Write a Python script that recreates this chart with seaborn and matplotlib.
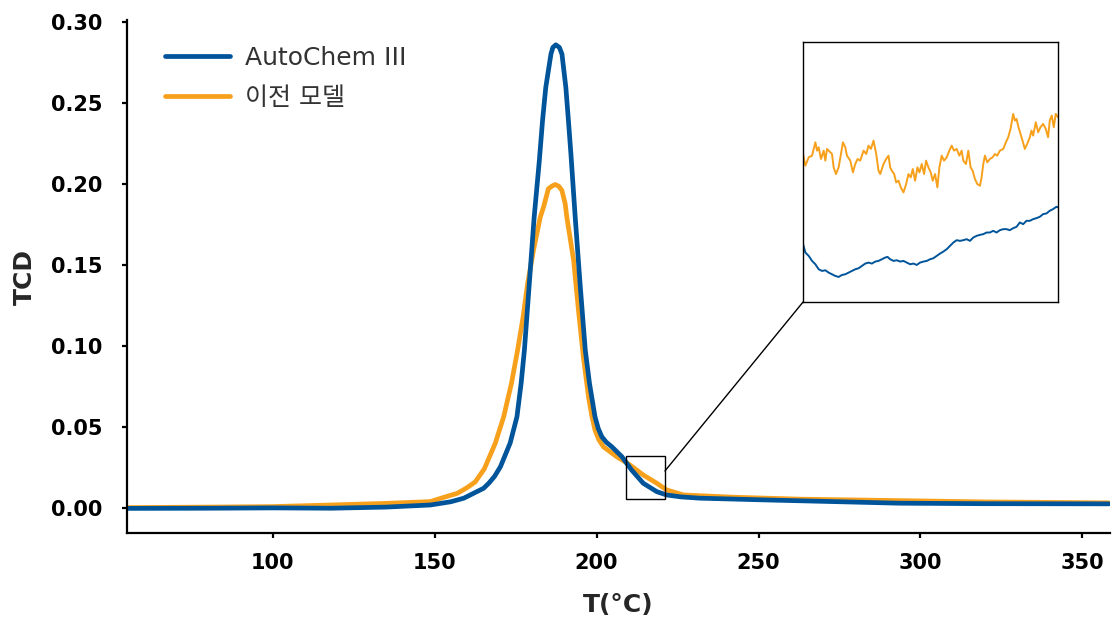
import numpy as np
import pandas as pd
import matplotlib
matplotlib.use("Agg")
import matplotlib.pyplot as plt
import seaborn as sns
from matplotlib.patches import Rectangle, ConnectionPatch

# main traces (T in °C, TCD signal)
t_auto = [55.3, 80, 100, 118, 135, 148.7, 155, 159, 162, 165.1, 166.7, 168.5, 170.3, 173.3,
          175.4, 176.7, 177.7, 179.2, 180.7, 182.3, 183.3, 184.3, 185.1, 185.9, 186.5, 187.4,
          188.5, 189.3, 189.9, 190.5, 191.3, 192.1, 193.4, 194.9, 196.5, 197.8, 199.5, 200.5,
          201.6, 203.0, 204.7, 207.8, 210.8, 214.4, 218.6, 221.6, 226, 231.9, 252.4, 273.0,
          293.5, 320, 358.2]
tcd_auto = [-0.0003, -0.0002, 0.0, -0.0002, 0.0005, 0.0018, 0.0038, 0.006, 0.009, 0.0121,
            0.0152, 0.0195, 0.0254, 0.040, 0.0562, 0.077, 0.0973, 0.138, 0.179, 0.214, 0.2389,
            0.2594, 0.2697, 0.280, 0.2841, 0.2857, 0.2841, 0.280, 0.2697, 0.2594, 0.2389,
            0.2174, 0.179, 0.138, 0.0973, 0.0768, 0.0562, 0.049, 0.0439, 0.0405, 0.0377,
            0.0316, 0.0234, 0.0152, 0.0100, 0.0080, 0.0068, 0.0060, 0.0049, 0.0039, 0.0029,
            0.0026, 0.0025]

t_prev = [55.3, 80, 100, 118, 135, 148.7, 152.8, 157, 160, 162.5, 165.3, 168.7, 171.3,
          173.7, 175.6, 177.3, 178.7, 180.5, 182.6, 183.6, 184.7, 185.1, 186.2, 187.2, 188.3,
          189.3, 190.3, 190.8, 192.9, 194.4, 195.9, 197.5, 198.5, 199.5, 200.7, 202.1, 206.2,
          210.3, 214.4, 218.6, 221.6, 226.8, 242.2, 262.7, 293.5, 320, 358.2]
tcd_prev = [0.0002, 0.0005, 0.0008, 0.0018, 0.0028, 0.0039, 0.0065, 0.009, 0.0125, 0.016,
            0.024, 0.0398, 0.0562, 0.0768, 0.0973, 0.1178, 0.1384, 0.1589, 0.1794, 0.1855,
            0.1938, 0.1969, 0.1985, 0.1995, 0.1985, 0.1958, 0.1876, 0.1794, 0.1527, 0.1219,
            0.0932, 0.0685, 0.057, 0.048, 0.042, 0.0377, 0.0316, 0.0265, 0.0203, 0.0152,
            0.0111, 0.0080, 0.0066, 0.0054, 0.0045, 0.0037, 0.0031]

# inset traces, readings in inset pixel units (x: position, y: depth from top)
ins_x_prev = [8, 15, 25, 35, 45, 50, 55, 62, 70, 75, 80, 90, 95, 100, 107, 115, 122, 128,
              135, 140, 150, 158, 165, 172, 180, 190, 198, 205, 212, 220, 228, 235, 240,
              250, 258, 265, 270, 275, 282, 288, 295, 302, 310, 318, 325, 332, 338, 345,
              352, 358, 365, 372, 378, 385, 392, 398, 405, 412, 418, 425, 432, 440, 448,
              455, 462, 470, 478, 485, 490, 498, 505, 512, 518, 525, 532, 540, 545, 550,
              555, 562, 570, 578, 585, 592, 600, 610, 618, 625, 632, 640, 645, 650, 656,
              662, 668, 675, 682, 690, 695, 700, 708, 715, 722, 730, 738, 745, 750, 756,
              762, 768, 775]
ins_y_prev = [340, 375, 350, 345, 305, 330, 320, 355, 330, 360, 325, 335, 340, 380, 400,
              380, 340, 305, 320, 345, 360, 395, 370, 355, 360, 330, 340, 315, 325, 300,
              340, 390, 400, 370, 355, 345, 380, 390, 400, 425, 420, 440, 455, 430, 400,
              410, 385, 420, 380, 395, 370, 400, 360, 380, 395, 420, 400, 440, 380, 345,
              360, 350, 330, 315, 330, 325, 345, 330, 360, 370, 330, 380, 390, 415, 430,
              435, 410, 370, 345, 365, 355, 350, 340, 345, 330, 325, 305, 290, 265, 220,
              240, 235, 260, 280, 300, 325, 310, 290, 270, 285, 245, 275, 260, 250, 265,
              290, 240, 225, 260, 220, 230]

ins_x_auto = [8, 15, 25, 35, 45, 55, 65, 75, 85, 95, 105, 115, 125, 135, 145, 155, 165,
              175, 185, 195, 205, 215, 225, 235, 245, 255, 262, 270, 280, 290, 300, 310,
              320, 330, 340, 350, 360, 370, 380, 390, 400, 410, 420, 430, 440, 450, 460,
              470, 480, 490, 500, 510, 520, 530, 540, 550, 560, 570, 580, 590, 600, 610,
              620, 630, 640, 650, 660, 670, 680, 690, 700, 710, 720, 730, 740, 750, 760,
              770, 775]
ins_y_auto = [610, 635, 645, 660, 670, 685, 690, 688, 695, 700, 705, 708, 702, 700, 695,
              690, 685, 682, 675, 668, 665, 668, 662, 660, 655, 650, 648, 655, 660, 658,
              662, 660, 665, 670, 668, 672, 665, 662, 660, 655, 652, 645, 638, 632, 625,
              615, 605, 598, 600, 598, 595, 600, 590, 585, 582, 580, 575, 575, 570, 575,
              568, 565, 565, 568, 562, 558, 545, 550, 540, 540, 535, 532, 528, 520, 518,
              510, 505, 498, 500]

blue = "#00549a"
orange = "#f7a01c"

sns.set_style("ticks")
plt.rcParams['font.family'] = ['DejaVu Sans', 'Noto Sans CJK KR']

fig = plt.figure(figsize=(11.18, 6.18), dpi=100)
ax = fig.add_axes([0.1136, 0.1375, 0.8792, 0.8301])

df_auto = pd.DataFrame({"T": t_auto, "TCD": tcd_auto})
df_prev = pd.DataFrame({"T": t_prev, "TCD": tcd_prev})
sns.lineplot(data=df_prev, x="T", y="TCD", ax=ax, color=orange, lw=3.4,
             label="이전 모델", estimator=None, solid_joinstyle="round")
sns.lineplot(data=df_auto, x="T", y="TCD", ax=ax, color=blue, lw=3.4,
             label="AutoChem III", estimator=None, solid_joinstyle="round")

ax.set_xlim(55, 358.5)
ax.set_ylim(-0.0155, 0.301)
ax.set_xticks([100, 150, 200, 250, 300, 350])
ax.set_yticks([0.0, 0.05, 0.10, 0.15, 0.20, 0.25, 0.30])
ax.set_yticklabels([f"{v:.2f}" for v in ax.get_yticks()])
sns.despine(ax=ax)
for s in ["left", "bottom"]:
    ax.spines[s].set_linewidth(1.6)
    ax.spines[s].set_color("black")
ax.tick_params(axis="both", length=3.5, width=1.6, labelsize=15, colors="black")
ax.tick_params(axis="y", pad=14)
ax.tick_params(axis="x", pad=11)
for lab in ax.get_xticklabels() + ax.get_yticklabels():
    lab.set_fontweight("bold")
ax.set_xlabel("T(°C)", fontsize=18, fontweight="bold", labelpad=14)
ax.set_ylabel("TCD", fontsize=18, fontweight="bold", labelpad=10)

h, l = ax.get_legend_handles_labels()
leg = ax.legend(h[::-1], l[::-1], loc="upper left", bbox_to_anchor=(0.016, 0.994),
                frameon=False, fontsize=18, handlelength=2.6, handletextpad=0.6,
                labelspacing=0.65, labelcolor="#333333")

# zoom box on the main plot
ax.add_patch(Rectangle((209.1, 0.0055), 12.0, 0.0265, fill=False, ec="black", lw=1.0, zorder=5))

# inset
ins = fig.add_axes([0.7183, 0.5113, 0.2281, 0.4207])
ins.plot(ins_x_prev, ins_y_prev, color=orange, lw=1.4)
ins.plot(ins_x_auto, ins_y_auto, color=blue, lw=1.4)
ins.set_xlim(8, 775)
ins.set_ylim(783, 5)
ins.set_xticks([])
ins.set_yticks([])
for s in ins.spines.values():
    s.set_linewidth(1.0)
    s.set_color("black")

con = ConnectionPatch(xyA=(221.1, 0.0228), coordsA=ax.transData,
                      xyB=(0, 0), coordsB=ins.transAxes, color="black", lw=1.0)
fig.add_artist(con)

fig.savefig("out.png", dpi=100)
